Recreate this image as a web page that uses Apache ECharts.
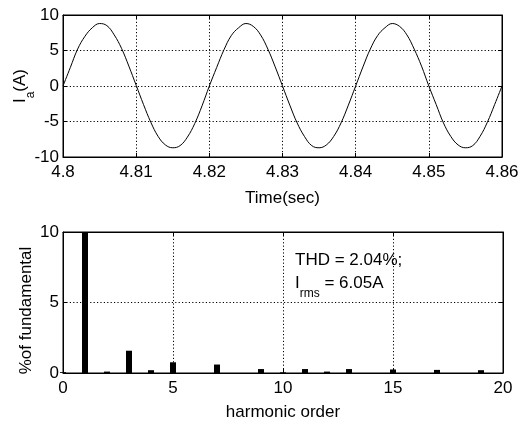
<!DOCTYPE html>
<html>
<head>
<meta charset="utf-8">
<script src="https://cdn.jsdelivr.net/npm/echarts@6/dist/echarts.min.js"></script>
<style>
  html, body { margin: 0; padding: 0; background: #fff; }
  #chart { width: 523px; height: 423px; }
</style>
</head>
<body>
<div id="chart"></div>
<script>
// Phase-a current, sampled every 1 ms from t = 4.800 s to 4.860 s
const timeStart = 4.8;
const timeStep = 0.001;
const currentA = [
  0, 2.6, 5.2, 7.0, 8.2, 8.8, 8.5, 7.2, 5.3, 2.8,
  0.1, -2.6, -5.1, -7.1, -8.3, -8.7, -8.4, -7.2, -5.3, -2.8,
  0, 2.6, 5.1, 7.1, 8.2, 8.8, 8.4, 7.2, 5.2, 2.7,
  0, -2.7, -5.2, -7.1, -8.4, -8.7, -8.3, -7.1, -5.2, -2.7,
  0, 2.7, 5.2, 7.1, 8.2, 8.8, 8.4, 7.2, 5.2, 2.8,
  0, -2.6, -5.2, -7.1, -8.3, -8.7, -8.4, -7.1, -5.1, -2.6,
  0
];
const timeTicks = [4.8, 4.81, 4.82, 4.83, 4.84, 4.85, 4.86];

// Harmonic spectrum, % of fundamental
const harmonicOrders = [0, 1, 2, 3, 4, 5, 7, 9, 10, 11, 12, 13, 15, 17, 19];
const harmonicPct    = [0.06, 100, 0.1, 1.58, 0.2, 0.76, 0.6, 0.28, 0.05, 0.28, 0.1, 0.28, 0.25, 0.22, 0.2];

const thdText = 'THD = 2.04%;';
const irmsValue = '6.05A';

const FONT = 'Liberation Sans, Arial, sans-serif';
const FS = 17;
const SUB = 12;

const waveData = currentA.map((v, i) => [timeStart + i * timeStep, v]);
const specData = harmonicOrders.map((h, i) => [h, harmonicPct[i]]);

const dotted = { color: '#000', width: 1, type: [1.2, 2.2] };
const labelStyle = { color: '#000', fontFamily: FONT, fontSize: FS };
const axisLine = { show: true, onZero: false, lineStyle: { color: '#000' } };
const ticks = { show: true, inside: true, length: 4, lineStyle: { color: '#000' } };

// Plain mirror axes for the top and right edges of each box (ticks only)
function mirrorX(grid, min, max, interval) {
  return { gridIndex: grid, type: 'value', position: 'top', min, max, interval,
    axisLine, axisTick: ticks, axisLabel: { show: false }, splitLine: { show: false } };
}
function mirrorY(grid, min, max, interval) {
  return { gridIndex: grid, type: 'value', position: 'right', min, max, interval,
    axisLine, axisTick: ticks, axisLabel: { show: false }, splitLine: { show: false } };
}

const chart = echarts.init(document.getElementById('chart'), null, { renderer: 'canvas' });

chart.setOption({
  backgroundColor: '#fff',
  animation: false,
  grid: [
    { left: 63, right: 21, top: 15, height: 142, show: true, borderColor: '#000', borderWidth: 1, backgroundColor: '#fff' },
    { left: 63, right: 20, top: 232, height: 141, show: true, borderColor: '#000', borderWidth: 1, backgroundColor: '#fff' }
  ],
  xAxis: [
    {
      gridIndex: 0, type: 'value', min: timeTicks[0], max: timeTicks[timeTicks.length - 1], interval: 0.01,
      axisLine, axisTick: ticks,
      axisLabel: Object.assign({ margin: 7, formatter: v => String(+v.toFixed(2)) }, labelStyle),
      splitLine: { show: true, lineStyle: dotted },
      name: 'Time(sec)', nameLocation: 'middle', nameGap: 33, nameMoveOverlap: false,
      nameTextStyle: labelStyle
    },
    {
      gridIndex: 1, type: 'value', min: 0, max: 20, interval: 5,
      axisLine, axisTick: ticks,
      axisLabel: Object.assign({ margin: 7 }, labelStyle),
      splitLine: { show: true, lineStyle: dotted },
      name: 'harmonic order', nameLocation: 'middle', nameGap: 31, nameMoveOverlap: false,
      nameTextStyle: labelStyle
    },
    mirrorX(0, timeTicks[0], timeTicks[timeTicks.length - 1], 0.01),
    mirrorX(1, 0, 20, 5)
  ],
  yAxis: [
    {
      gridIndex: 0, type: 'value', min: -10, max: 10, interval: 5,
      axisLine, axisTick: ticks,
      axisLabel: Object.assign({ margin: 4 }, labelStyle),
      splitLine: { show: true, lineStyle: dotted },
      name: '{m|I}{s|a}{m|(A)}', nameLocation: 'middle', nameGap: 26, nameMoveOverlap: false,
      nameTextStyle: {
        color: '#000', fontFamily: FONT, fontSize: FS,
        rich: {
          m: { color: '#000', fontFamily: FONT, fontSize: FS, lineHeight: 18, verticalAlign: 'top' },
          s: { color: '#000', fontFamily: FONT, fontSize: SUB, lineHeight: 25, verticalAlign: 'bottom' }
        }
      }
    },
    {
      gridIndex: 1, type: 'value', min: 0, max: 10, interval: 5,
      axisLine, axisTick: ticks,
      axisLabel: Object.assign({ margin: 4 }, labelStyle),
      splitLine: { show: true, lineStyle: dotted },
      name: '%of fundamental', nameLocation: 'middle', nameGap: 28, nameMoveOverlap: false,
      nameTextStyle: Object.assign({ padding: [0, 16, 0, 0] }, labelStyle)
    },
    mirrorY(0, -10, 10, 5),
    mirrorY(1, 0, 10, 5)
  ],
  series: [
    {
      type: 'line', xAxisIndex: 0, yAxisIndex: 0, data: waveData,
      showSymbol: false, smooth: 0.4, clip: true,
      lineStyle: { color: '#000', width: 1 }
    },
    {
      type: 'bar', xAxisIndex: 1, yAxisIndex: 1, data: specData,
      barWidth: 6, clip: true,
      itemStyle: { color: '#000' }
    }
  ],
  graphic: [
    {
      type: 'text', left: 295, top: 252,
      style: { text: thdText, fill: '#000', font: FS + 'px ' + FONT }
    },
    {
      type: 'text', left: 295, top: 275,
      style: {
        text: '{m|I}{s|rms}{m| = ' + irmsValue + '}',
        fill: '#000', font: FS + 'px ' + FONT,
        rich: {
          m: { fill: '#000', fontFamily: FONT, fontSize: FS, lineHeight: 18, verticalAlign: 'top' },
          s: { fill: '#000', fontFamily: FONT, fontSize: SUB, lineHeight: 25, verticalAlign: 'bottom' }
        }
      }
    }
  ]
});
</script>
</body>
</html>
